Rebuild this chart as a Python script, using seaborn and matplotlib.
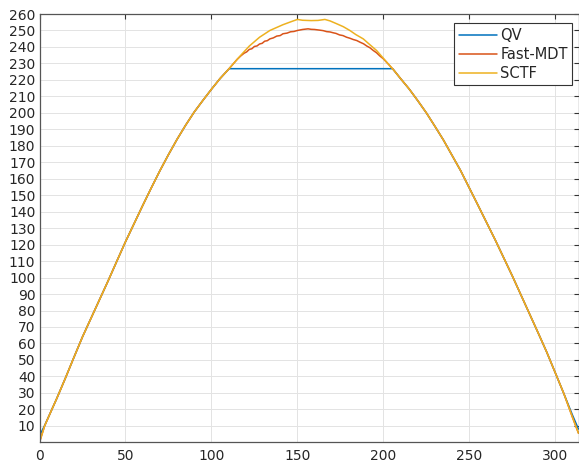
import numpy as np
import pandas as pd
import matplotlib
matplotlib.use("Agg")
import matplotlib.pyplot as plt
import seaborn as sns

# ---------------- data ----------------
# shared rising branch (all three methods coincide here)
rise_x = [0, 3, 7, 10, 15, 20, 25, 30, 35, 40, 45, 50, 55, 60, 65, 70, 75, 80, 85, 90, 95, 100, 105]
rise_y = [0, 10, 19.5, 26.5, 38.8, 51.5, 64, 75.4, 86.8, 98.2, 110, 121.7, 132.7, 143.7, 154.4,
          164.8, 174.6, 183.9, 192.5, 200.5, 207.5, 214.3, 220.8]

# shared falling branch
fall_x = [206, 210, 215, 220, 225, 230, 235, 240, 245, 250, 255, 260, 265, 270, 275, 280,
          285, 290, 295, 300, 305, 310, 313.5]
fall_y = [226, 220.8, 214.5, 207.4, 200, 191.8, 183.4, 174.1, 164.8, 154.4, 144, 133.5, 123,
          112, 101, 89.5, 78, 66.5, 54.8, 42.2, 29.5, 15.2, 5.5]

# QV: small offset at the ends, flat clipped top
qv_start_x = [0, 3]
qv_start_y = [4, 10.2]
qv_top_x = [110.3, 205.4]
qv_top_y = [226.8, 226.8]
qv_end_x = [310, 313.5]
qv_end_y = [16.5, 8]

# Fast-MDT peak region (slightly ragged)
fmdt_peak_x = [110, 115, 117, 119, 120.5, 122, 123.5, 125, 126.5, 128, 129.5, 131, 132.5, 134,
               136, 138, 140, 141.6, 144, 146, 148, 150, 153, 156.2, 158, 160, 163, 165, 167,
               169, 170.8, 172.5, 174.5, 176.5, 178.6, 180.5, 182.5, 184.5, 186.4, 188.5,
               190.3, 192.2, 194.2, 196, 198, 200, 202]
fmdt_peak_y = [226.5, 232.5, 234.5, 236.2, 237.0, 238.5, 238.9, 240.3, 240.6, 241.8, 242.2,
               243.5, 243.8, 244.9, 245.5, 246.6, 246.9, 248, 248.4, 249.2, 249.4, 250, 250.6,
               251, 250.7, 250.6, 250.2, 249.9, 249.3, 249.1, 248.6, 248.2, 247.3, 246.9,
               245.9, 245.3, 244.5, 243.9, 242.9, 241.9, 240.6, 239.5, 237.8, 236.5, 234.5,
               232.8, 230.6]

# SCTF peak region
sctf_peak_x = [110, 115, 118, 122, 128, 134, 141.6, 146, 150, 153, 158, 162, 166, 169, 172.8,
               176.7, 180.5, 184, 188.3, 192, 196.1, 199, 202.9]
sctf_peak_y = [226.5, 232.5, 236, 240.5, 245.9, 250, 253.5, 255.2, 256.7, 256.2, 256, 256.1,
               256.7, 255.8, 254.1, 252.3, 250, 247.5, 244.9, 241.5, 237.8, 234.3, 229.6]

series_names = ["QV", "Fast-MDT", "SCTF"]
series_colors = ["#0072BD", "#D95319", "#EDB120"]

x_ticks = [0, 50, 100, 150, 200, 250, 300]
y_ticks = list(range(10, 261, 10))

# ---------------- build long-form table ----------------
qv_x = qv_start_x + rise_x[2:] + qv_top_x + fall_x[1:-2] + qv_end_x
qv_y = qv_start_y + rise_y[2:] + qv_top_y + fall_y[1:-2] + qv_end_y
fm_x = rise_x + fmdt_peak_x + fall_x
fm_y = rise_y + fmdt_peak_y + fall_y
sc_x = rise_x + sctf_peak_x + fall_x
sc_y = rise_y + sctf_peak_y + fall_y

frames = []
for name, xs, ys in zip(series_names, [qv_x, fm_x, sc_x], [qv_y, fm_y, sc_y]):
    frames.append(pd.DataFrame({"x": xs, "y": ys, "series": name}))
df = pd.concat(frames, ignore_index=True)

# ---------------- plot ----------------
sns.set_style("white")
plt.rcParams["font.family"] = ["DejaVu Sans"]

W, H = 579, 466
fig = plt.figure(figsize=(W / 100, H / 100), dpi=100)
ax = fig.add_axes([39.5 / W, (H - 442.3) / H, 539 / W, 428.3 / H])

sns.lineplot(data=df, x="x", y="y", hue="series", hue_order=series_names,
             palette=dict(zip(series_names, series_colors)), estimator=None,
             sort=False, linewidth=1.1, ax=ax)

ax.set_xlim(0, 313.5)
ax.set_ylim(0, 260)
ax.set_xticks(x_ticks)
ax.set_yticks(y_ticks)
ax.set_xticklabels([str(t) for t in x_ticks])
ax.set_yticklabels([str(t) for t in y_ticks])
ax.set_xlabel("")
ax.set_ylabel("")

ax.grid(True, color="#e3e3e3", linewidth=0.7)
ax.set_axisbelow(True)
for s in ax.spines.values():
    s.set_visible(True)
    s.set_color("#555555")
    s.set_linewidth(0.9)

ax.tick_params(axis="both", direction="in", length=3.6, width=0.8, color="#333333",
               top=True, right=True, labelsize=10, labelcolor="#262626")
ax.tick_params(axis="x", pad=5)
ax.tick_params(axis="y", pad=3)

handles, labels = ax.get_legend_handles_labels()
leg = ax.legend(handles, labels, loc="upper right", bbox_to_anchor=(0.9885, 0.978),
                borderaxespad=0, fancybox=False, framealpha=1, edgecolor="#333333",
                fontsize=10.5, handlelength=2.6, handletextpad=0.25, labelspacing=0.28,
                borderpad=0.3)
leg.get_frame().set_linewidth(0.8)

fig.savefig("out.png", dpi=100)
